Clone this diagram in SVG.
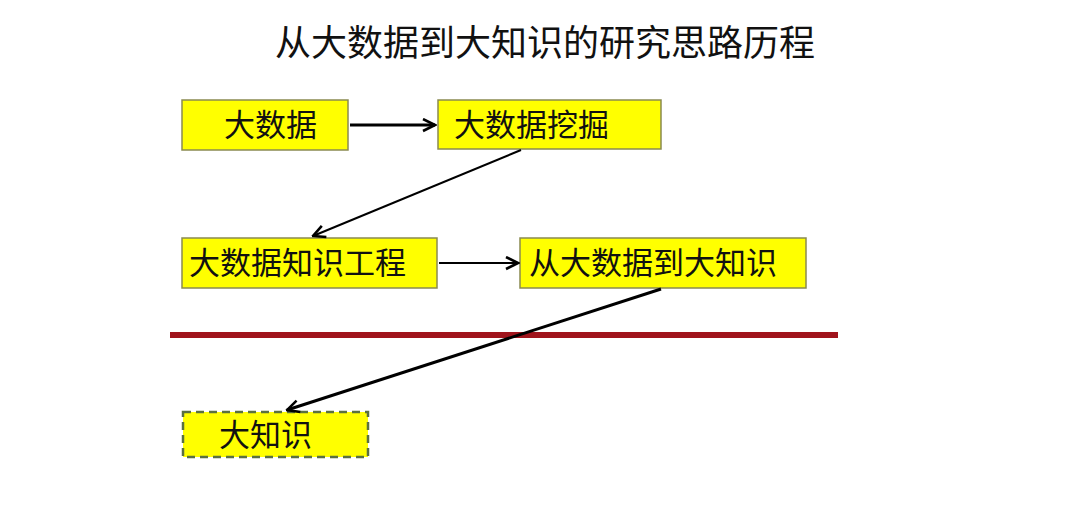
<svg xmlns="http://www.w3.org/2000/svg" width="1080" height="532" viewBox="0 0 1080 532">
<style>
.box{fill:#ffff00;stroke:#8a8a50;stroke-width:1.5}
.dash{fill:#ffff00;stroke:#5a7040;stroke-width:2.5;stroke-dasharray:8 5}
.t{font-family:"Liberation Sans","Noto Sans CJK SC",sans-serif;font-size:31px;fill:#111}
.title{font-family:"Liberation Sans","Noto Sans CJK SC",sans-serif;font-size:36px;fill:#111}
.c{stroke:#000;fill:none}
</style>
<defs>
<marker id="ah2" viewBox="0 0 10 10" refX="9" refY="5" markerWidth="15" markerHeight="15" markerUnits="userSpaceOnUse" orient="auto">
<path d="M1,1 L9,5 L1,9" fill="none" stroke="#000" stroke-width="1.7"/>
</marker>
</defs>
<rect width="1080" height="532" fill="#fff"/>
<text class="title" x="545" y="56" text-anchor="middle">从大数据到大知识的研究思路历程</text>
<g id="n1"><rect class="box" x="182" y="100" width="166" height="50"/><text class="t" x="224" y="136">大数据</text></g>
<g id="n2"><rect class="box" x="438" y="100" width="223" height="49"/><text class="t" x="454" y="136">大数据挖掘</text></g>
<g id="n3"><rect class="box" x="182" y="238" width="255" height="50"/><text class="t" x="189" y="274">大数据知识工程</text></g>
<g id="n4"><rect class="box" x="520" y="238" width="286" height="50"/><text class="t" x="529" y="274">从大数据到大知识</text></g>
<g id="n5"><rect class="dash" x="183" y="412" width="185" height="45"/><text class="t" x="219" y="446">大知识</text></g>
<line x1="170" y1="335" x2="838" y2="335" stroke="#a0141c" stroke-width="6"/>
<g id="connectors">
<line class="c" x1="350" y1="125" x2="435" y2="125" stroke-width="3" marker-end="url(#ah2)"/>
<line class="c" x1="521" y1="150" x2="313" y2="236" stroke-width="2" marker-end="url(#ah2)"/>
<line class="c" x1="439" y1="263" x2="518" y2="263" stroke-width="2" marker-end="url(#ah2)"/>
<line class="c" x1="661" y1="289" x2="287" y2="410" stroke-width="3" marker-end="url(#ah2)"/>
</g>
</svg>
